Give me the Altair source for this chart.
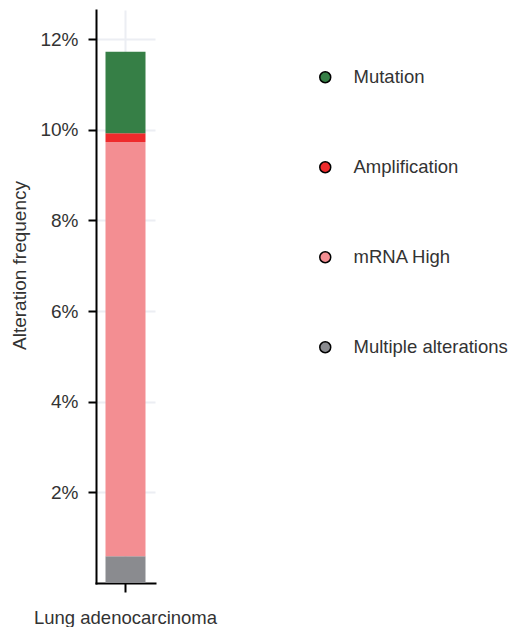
import altair as alt
import pandas as pd

categories = ["Multiple alterations", "mRNA High", "Amplification", "Mutation"]
values = [0.59, 9.14, 0.19, 1.80]
stack_order = [0, 1, 2, 3]
cancer = ["Lung adenocarcinoma"] * 4
legend_order = ["Mutation", "Amplification", "mRNA High", "Multiple alterations"]
legend_colors = ["#367f46", "#ee2b2c", "#f38e92", "#8a8b8f"]
y_ticks = [2, 4, 6, 8, 10, 12]

df = pd.DataFrame({"cancer": cancer, "type": categories, "value": values, "ord": stack_order})

FONT = "Liberation Sans"

chart = alt.Chart(df).mark_bar(width=40).encode(
    x=alt.X("cancer:N", title=None,
            axis=alt.Axis(labelAngle=0, labelFontSize=18.5, labelColor="#333333",
                          labelFont=FONT, labelLimit=0, domainColor="black", domainWidth=2,
                          tickColor="black", tickWidth=2, tickSize=9, labelPadding=16,
                          grid=True, gridColor="#eceef3", gridWidth=2, bandPosition=0.5)),
    y=alt.Y("value:Q", stack="zero", title="Alteration frequency",
            scale=alt.Scale(domain=[0, 12.64], nice=False),
            axis=alt.Axis(values=y_ticks, labelExpr="datum.value + '%'",
                          labelFontSize=19, labelColor="#333333", labelFont=FONT,
                          domainColor="black", domainWidth=2, tickColor="black",
                          tickWidth=2, tickSize=8, labelPadding=10,
                          grid=True, gridColor="#eceef3", gridWidth=2,
                          titleFont=FONT, titleFontSize=19, titleFontWeight="normal",
                          titleColor="#333333", titleX=-77, titleY=255,
                          titleAngle=270, titleAlign="center", titleBaseline="middle")),
    color=alt.Color("type:N",
                    scale=alt.Scale(domain=legend_order, range=legend_colors),
                    legend=alt.Legend(title=None, orient="none", legendX=220, legendY=58,
                                      symbolType="circle", symbolSize=120,
                                      symbolStrokeColor="black", symbolStrokeWidth=1.5,
                                      labelFontSize=18.5, labelFont=FONT, labelColor="#333333",
                                      labelLimit=0, labelOffset=19, rowPadding=71)),
    order=alt.Order("ord:Q", sort="ascending"),
).properties(
    width=59, height=573,
    autosize=alt.AutoSizeParams(type="none"),
    padding={"left": 88, "top": 2, "right": 354, "bottom": 44},
).configure_view(stroke=None).configure_axis(domainCap="square")

chart.save("out.html", embed_options={"renderer": "svg", "actions": False})
